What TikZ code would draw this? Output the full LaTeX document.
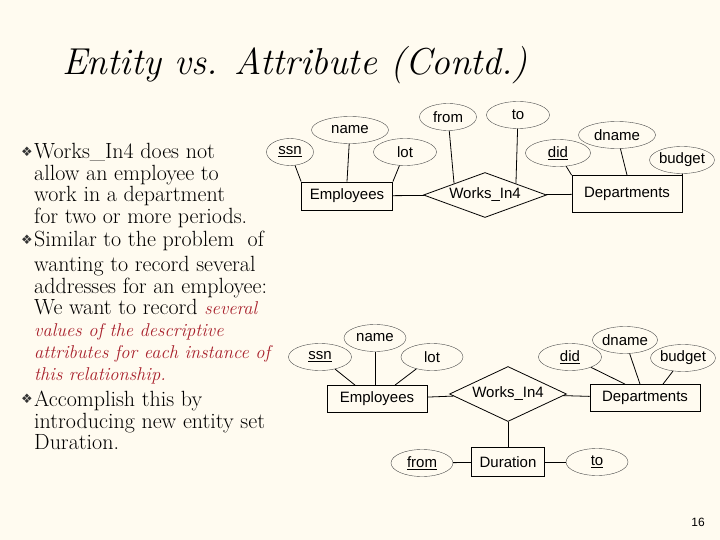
\documentclass[tikz,border=0pt]{standalone}
\usepackage{fontspec}
\newfontfamily\arial{Liberation Sans}
\newfontfamily\dejavu{DejaVu Sans}
\usetikzlibrary{shapes.geometric}
\definecolor{bg}{HTML}{FFFBF0}
\definecolor{redtxt}{HTML}{A8202C}
\newcommand{\redit}{\color{redtxt}\itshape\fontsize{18.5}{22}\selectfont}
\begin{document}
\begin{tikzpicture}[x=1pt,y=-1pt,
  attr/.style={ellipse,draw=black!70,line width=0.4pt,inner sep=0pt,font=\arial\fontsize{15}{17}\selectfont},
  ent/.style={rectangle,draw,line width=0.8pt,inner sep=0pt,font=\arial\fontsize{15}{17}\selectfont},
  rel/.style={diamond,draw,line width=0.8pt,inner sep=0pt,aspect=2.6,font=\arial\fontsize{15}{17}\selectfont},
  conn/.style={line width=0.8pt},
  body/.style={anchor=base west,inner sep=0pt,font=\fontsize{22}{24}\selectfont},
  bul/.style={inner sep=0pt,font=\dejavu\fontsize{13}{14}\selectfont,text=black!80}]
\fill[bg] (0,0) rectangle (720,540);
\useasboundingbox (0,0) rectangle (720,540);
\node[inner sep=0pt,font=\itshape\fontsize{37.5}{42}\selectfont] (title) at (295,65) {Entity vs. Attribute (Contd.)};
% bullets
\node[bul] (b1) at (27,152) {❖};
\node[bul] (b2) at (27,240) {❖};
\node[bul] (b3) at (27,399) {❖};
% text
\node[body] (t1) at (34,159) {Works\_In4 does not};
\node[body] (t2) at (34,181) {allow an employee to};
\node[body] (t3) at (34,202) {work in a department};
\node[body] (t4) at (34,223) {for two or more periods.};
\node[body] (t5) at (34,247) {Similar to the problem\ \ of};
\node[body] (t6) at (34,271) {wanting to record several};
\node[body] (t7) at (34,293) {addresses for an employee:};
\node[body] (t8) at (34,314) {We want to record {\redit several}};
\node[body] (t9) at (34,336) {\redit values of the descriptive};
\node[body] (t10) at (34,358) {\redit attributes for each instance of};
\node[body] (t11) at (34,380) {\redit this relationship.};
\node[body] (t12) at (34,406) {Accomplish this by};
\node[body] (t13) at (34,428) {introducing new entity set};
\node[body] (t14) at (34,449) {Duration.};
\node[inner sep=0pt,font=\arial\fontsize{12}{14}\selectfont] (pg) at (698,522) {16};
% diagram 1
\node[ent,minimum width=91,minimum height=28] (e1) at (347,196) {Employees};
\node[rel,minimum width=123,minimum height=45] (r1) at (485,195) {Works\_In4};
\node[ent,minimum width=110,minimum height=37] (d1) at (627,194) {Departments};
\node[attr,minimum width=47,minimum height=27] (ssn1) at (290,152) {\underline{ssn}};
\node[attr,minimum width=77,minimum height=27] (name1) at (350,130) {name};
\node[attr,minimum width=63,minimum height=27] (lot1) at (405,152) {lot};
\node[attr,minimum width=57,minimum height=27] (from1) at (448,117) {from};
\node[attr,minimum width=63,minimum height=27] (to1) at (518,115) {to};
\node[attr,minimum width=65,minimum height=27] (did1) at (558,153) {\underline{did}};
\node[attr,minimum width=77,minimum height=27] (dname1) at (617,135) {dname};
\node[attr,minimum width=62,minimum height=27] (budget1) at (682,160) {budget};
\draw[conn] (ssn1) -- (e1.north west);
\draw[conn] (name1) -- (e1.north);
\draw[conn] (lot1) -- (e1.north east);
\draw[conn] (from1) -- (r1.north west);
\draw[conn] (to1) -- (r1.north east);
\draw[conn] (did1) -- (d1.north west);
\draw[conn] (dname1) -- (d1.north);
\draw[conn] (budget1) -- (d1.north east);
\draw[conn] (e1) -- (r1);
\draw[conn] (r1) -- (d1);
% diagram 2
\node[ent,minimum width=100,minimum height=27] (e2) at (377,399) {Employees};
\node[rel,minimum width=117,minimum height=55] (r2) at (508,394) {Works\_In4};
\node[ent,minimum width=110,minimum height=27] (d2) at (645,398) {Departments};
\node[ent,minimum width=73,minimum height=29] (du) at (508,462) {Duration};
\node[attr,minimum width=63,minimum height=27] (ssn2) at (320,357) {\underline{ssn}};
\node[attr,minimum width=62,minimum height=27] (name2) at (375,338) {name};
\node[attr,minimum width=62,minimum height=27] (lot2) at (432,357) {lot};
\node[attr,minimum width=63,minimum height=27] (did2) at (570,357) {\underline{did}};
\node[attr,minimum width=65,minimum height=27] (dname2) at (625,340) {dname};
\node[attr,minimum width=62,minimum height=27] (budget2) at (683,358) {budget};
\node[attr,minimum width=62,minimum height=27] (from2) at (422,463) {\underline{from}};
\node[attr,minimum width=62,minimum height=27] (to2) at (597,462) {\underline{to}};
\draw[conn] (ssn2) -- ([xshift=-22]e2.north);
\draw[conn] (name2) -- ([xshift=-2]e2.north);
\draw[conn] (lot2) -- ([xshift=18]e2.north);
\draw[conn] (did2) -- ([xshift=-20]d2.north);
\draw[conn] (dname2) -- ([xshift=-5]d2.north);
\draw[conn] (budget2) -- ([xshift=18]d2.north);
\draw[conn] (e2) -- (r2);
\draw[conn] (r2) -- (d2);
\draw[conn] (r2) -- (du);
\draw[conn] (from2) -- (du);
\draw[conn] (du) -- (to2);
\end{tikzpicture}
\end{document}
